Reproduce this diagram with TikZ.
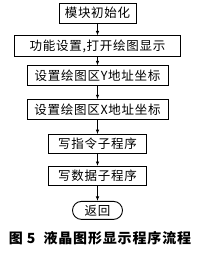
\documentclass[tikz,border=0pt]{standalone}
\usepackage{fontspec}
\setmainfont[LetterSpace=6]{Noto Sans CJK SC}
\usetikzlibrary{arrows.meta,positioning}

\begin{document}
\begin{tikzpicture}[
  x=1pt, y=1pt,
  font=\fontsize{12.5}{14}\selectfont,
  box/.style={draw, line width=0.9pt, align=center, minimum height=20pt, inner sep=0pt},
  arr/.style={-{Latex[length=4.5pt,width=3.5pt]}, line width=0.8pt}
]
  \useasboundingbox (0,0) rectangle (200,-255);

  \node[box, minimum width=77pt] (init) at (97.5,-13) {模块初始化};
  \node[box, minimum width=166pt, minimum height=21pt, below=12pt of init] (func) {功能设置,打开绘图显示};
  \node[box, minimum width=141pt, below=8pt of func] (ysetup) {设置绘图区Y地址坐标};
  \node[box, minimum width=141pt, below=13pt of ysetup] (xsetup) {设置绘图区X地址坐标};
  \node[box, minimum width=98pt, minimum height=19pt, below=14pt of xsetup] (wcmd) {写指令子程序};
  \node[box, minimum width=98pt, minimum height=19pt, below=12pt of wcmd] (wdata) {写数据子程序};
  \node[box, minimum width=50pt, minimum height=18pt, rounded corners=9pt, below=15pt of wdata] (ret) {返回};

  \node[font=\fontsize{14}{16}\selectfont\bfseries] (caption) at (100,-238.5) {图 5\ \ 液晶图形显示程序流程};

  \draw[arr] (init) -- (func);
  \draw[arr] (func) -- (ysetup);
  \draw[arr] (ysetup) -- (xsetup);
  \draw[arr] (xsetup) -- (wcmd);
  \draw[arr] (wcmd) -- (wdata);
  \draw[arr] (wdata) -- (ret);
\end{tikzpicture}
\end{document}
